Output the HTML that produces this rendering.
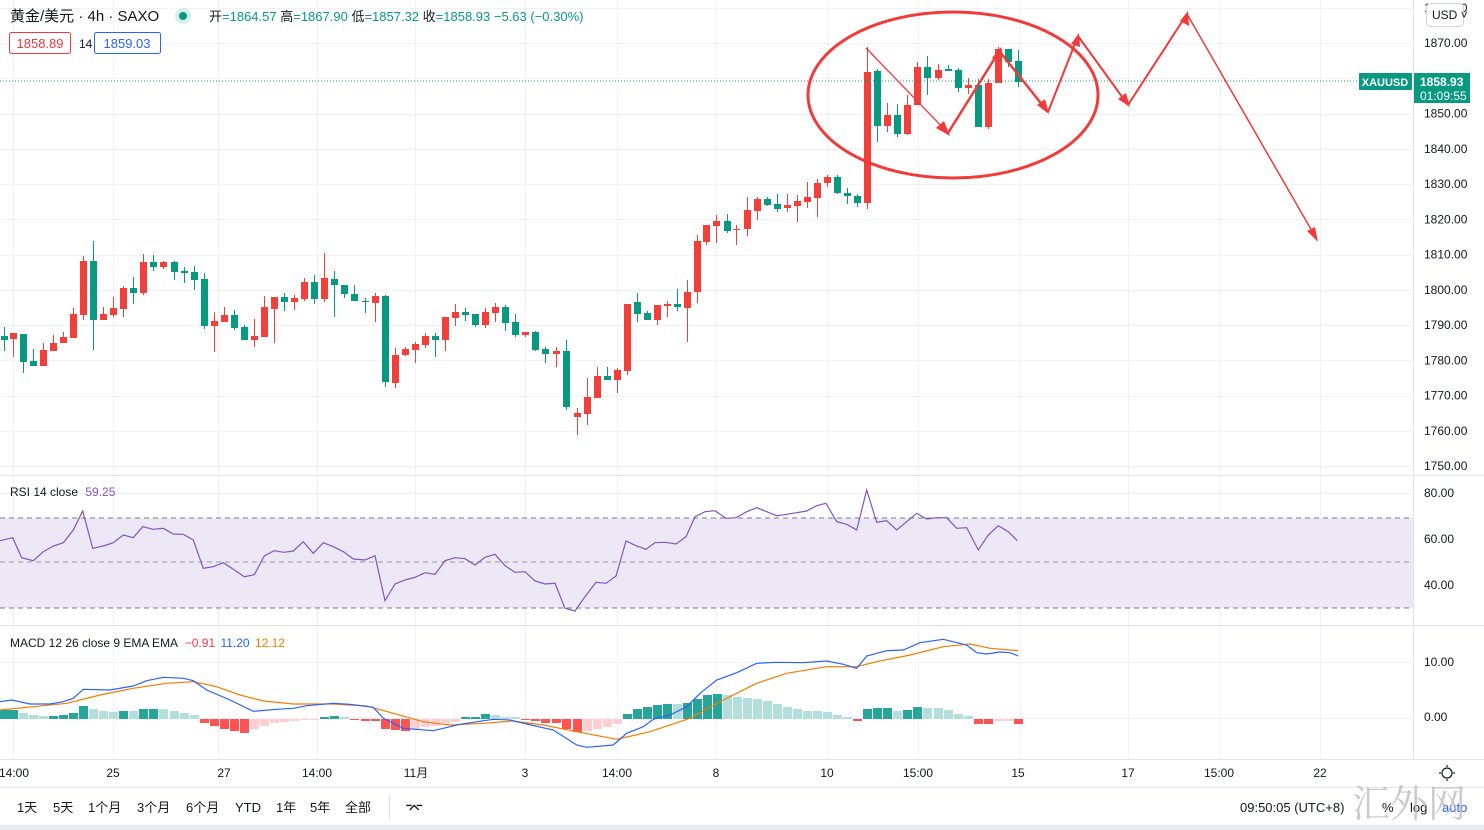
<!DOCTYPE html>
<html><head><meta charset="utf-8">
<style>
html,body{margin:0;padding:0;background:#fff;}
body{width:1484px;height:830px;overflow:hidden;position:relative;font-family:"Liberation Sans","Noto Sans CJK SC",sans-serif;}
svg{position:absolute;left:0;top:0;}
.t{font-family:"Liberation Sans","Noto Sans CJK SC",sans-serif;}
</style></head><body>
<svg id="s" width="1484" height="830" xmlns="http://www.w3.org/2000/svg">
<g id="grid" stroke="#f0f2f5" stroke-width="1"></g>
<rect x="0" y="518" width="1413" height="90" fill="#ede8f6"/>
<line x1="0" y1="518" x2="1413" y2="518" stroke="#787b86" stroke-dasharray="5,4"/>
<line x1="0" y1="562" x2="1413" y2="562" stroke="#9598a1" stroke-dasharray="5,4"/>
<line x1="0" y1="608" x2="1413" y2="608" stroke="#787b86" stroke-dasharray="5,4"/>
<g id="candles"></g>
<line x1="0" y1="81" x2="1413" y2="81" stroke="#089981" stroke-dasharray="1,2"/>
<g id="rsi"></g>
<g id="macd"></g>
<line x1="0" y1="475.5" x2="1484" y2="475.5" stroke="#e0e3eb"/>
<line x1="0" y1="625.5" x2="1484" y2="625.5" stroke="#e0e3eb"/>
<line x1="0" y1="759.5" x2="1484" y2="759.5" stroke="#e0e3eb"/>
<line x1="0" y1="787.5" x2="1484" y2="787.5" stroke="#e0e3eb"/>
<line x1="1413.5" y1="0" x2="1413.5" y2="759" stroke="#e0e3eb"/>
<rect x="0" y="825" width="1484" height="5" fill="#e9ecf2"/>
<g fill="none" stroke="#f23a3a">
<ellipse cx="953" cy="95" rx="145" ry="83" stroke-width="3"/>
<polyline points="866,48 948,133" stroke-width="1.3"/>
<polyline points="948,133 1000,50" stroke-width="2.5"/>
<polyline points="1000,52 1048,112" stroke-width="2.5"/>
<polyline points="1048,112 1078,36" stroke-width="2"/>
<polyline points="1078,36 1128,105" stroke-width="2"/>
<polyline points="1128,105 1187,14" stroke-width="2"/>
<polyline points="1187,14 1316,238" stroke-width="1.5"/>
</g>
<g fill="#f23a3a">
<polygon points="950,136 936,128 944,121"/>
<polygon points="1001,47 1002,63 992,58"/>
<polygon points="1049,114 1037,105 1045,99"/>
<polygon points="1079,33 1080,47 1071,44"/>
<polygon points="1130,107 1118,99 1126,93"/>
<polygon points="1188,11 1189,26 1180,21"/>
<polygon points="1318,242 1307,231 1315,227"/>
</g>
<g id="pax" class="t" font-size="12" fill="#131722"></g>
<g class="t" font-size="12" fill="#131722">
<text x="1424" y="497">80.00</text><text x="1424" y="543">60.00</text><text x="1424" y="589">40.00</text>
<text x="1424" y="666">10.00</text><text x="1424" y="721">0.00</text>
</g>
<rect x="1426.5" y="3.5" width="37" height="23" rx="4" fill="#fff" stroke="#d1d4dc"/>
<text x="1432" y="19" class="t" font-size="12" fill="#131722">USD ˅</text>
<rect x="1359" y="73" width="53" height="17" fill="#089981"/>
<text x="1385" y="86" class="t" font-size="11" font-weight="bold" fill="#fff" text-anchor="middle">XAUUSD</text>
<rect x="1414" y="73" width="56" height="30" fill="#089981"/>
<text x="1420" y="86" class="t" font-size="12" font-weight="bold" fill="#fff">1858.93</text>
<text x="1420" y="100" class="t" font-size="12" fill="#fff">01:09:55</text>
<g class="t" font-size="12" fill="#131722" text-anchor="middle">
<text x="14" y="777">14:00</text><text x="113" y="777">25</text><text x="224" y="777">27</text>
<text x="317" y="777">14:00</text><text x="416" y="777">11月</text><text x="525" y="777">3</text>
<text x="617" y="777">14:00</text><text x="716" y="777">8</text><text x="827" y="777">10</text>
<text x="918" y="777">15:00</text><text x="1018" y="777">15</text><text x="1128" y="777">17</text>
<text x="1219" y="777">15:00</text><text x="1320" y="777">22</text>
</g>
<circle cx="1447" cy="773" r="5" fill="none" stroke="#131722" stroke-width="1.2"/>
<g stroke="#131722" stroke-width="1.2"><line x1="1447" y1="765" x2="1447" y2="767"/><line x1="1447" y1="779" x2="1447" y2="781"/><line x1="1439" y1="773" x2="1441" y2="773"/><line x1="1453" y1="773" x2="1455" y2="773"/></g>
<g class="t" font-size="13" fill="#131722">
<text x="17" y="812">1天</text><text x="53" y="812">5天</text><text x="88" y="812">1个月</text>
<text x="137" y="812">3个月</text><text x="186" y="812">6个月</text><text x="235" y="812">YTD</text>
<text x="276" y="812">1年</text><text x="310" y="812">5年</text><text x="345" y="812">全部</text>
<text x="405" y="814" font-size="16">⌤</text>
<text x="1240" y="812">09:50:05 (UTC+8)</text>
<text x="1382" y="812">%</text><text x="1410" y="812">log</text>
<text x="1442" y="812" fill="#2962ff">auto</text>
</g>
<line x1="389.5" y1="795" x2="389.5" y2="820" stroke="#e0e3eb"/>
<text x="1352" y="817" font-family="'Noto Serif CJK SC',serif" font-size="38" fill="#b5b5b5" opacity="0.7">汇外网</text>
<g class="t" font-size="15" fill="#131722"><text x="10" y="21">黄金/美元 · 4h · SAXO</text></g>
<circle cx="183" cy="16" r="8" fill="#d7efe9"/><circle cx="183" cy="16" r="4" fill="#089981"/>
<g class="t" font-size="13" fill="#089981">
<text x="209" y="21"><tspan fill="#131722">开</tspan>=1864.57 <tspan fill="#131722">高</tspan>=1867.90 <tspan fill="#131722">低</tspan>=1857.32 <tspan fill="#131722">收</tspan>=1858.93 −5.63 (−0.30%)</text>
</g>
<rect x="9.5" y="32.5" width="61" height="21" rx="2" fill="#fff" stroke="#f23645"/>
<text x="40" y="48" class="t" font-size="13" fill="#f23645" text-anchor="middle">1858.89</text>
<text x="79" y="48" class="t" font-size="12" fill="#131722">14</text>
<rect x="94.5" y="32.5" width="66" height="21" rx="2" fill="#fff" stroke="#2962ff"/>
<text x="127" y="48" class="t" font-size="13" fill="#2962ff" text-anchor="middle">1859.03</text>
<g class="t" font-size="12"><text x="10" y="496" fill="#131722">RSI 14 close <tspan fill="#7e57c2" dx="4">59.25</tspan></text>
<text x="10" y="647" fill="#131722">MACD 12 26 close 9 EMA EMA <tspan fill="#f23645" dx="4">−0.91</tspan> <tspan fill="#2962ff" dx="2">11.20</tspan> <tspan fill="#f57c00" dx="2">12.12</tspan></text></g>
</svg>
<script>
var NS="http://www.w3.org/2000/svg";
function el(p,t,a){var e=document.createElementNS(NS,t);for(var k in a)e.setAttribute(k,a[k]);p.appendChild(e);return e;}
var g=document.getElementById('grid');
[13,113,218,317,415,525,617,716,828,918,1020,1128,1220,1320].forEach(function(x){el(g,'line',{x1:x+.5,y1:0,x2:x+.5,y2:759});});
var pax=document.getElementById('pax');
for(var k=-1;k<=12;k++){var y=43+k*35.25;el(g,'line',{x1:0,y1:Math.round(y)+.5,x2:1413,y2:Math.round(y)+.5});
 var t=el(pax,'text',{x:1424,y:y+4});t.textContent=(1870-10*k)+'.00';}
[493,539,585,662,718].forEach(function(y){el(g,'line',{x1:0,y1:y+.5,x2:1413,y2:y+.5});});
var C=[[4,'G',336,340,327,351],[13,'R',333,339,333,357],[23,'G',334,362,334,373],[33,'G',361,366,349,366],[43,'R',350,366,343,366],[53,'R',343,351,335,351],[63,'R',337,343,332,343],[73,'R',314,338,308,338],[83,'R',261,315,256,320],[93,'G',261,320,241,350],[103,'R',314,320,307,320],[113,'R',308,315,297,317],[123,'R',288,309,286,317],[133,'G',288,293,277,304],[143,'R',262,293,254,295],[153,'G',262,267,255,271],[163,'R',262,267,261,269],[174,'G',262,272,261,280],[184,'G',271,273,267,283],[194,'G',272,280,266,290],[204,'G',279,326,273,329],[214,'R',321,326,312,352],[224,'R',315,322,307,322],[234,'G',315,328,310,330],[244,'G',327,340,325,340],[254,'R',336,340,319,347],[264,'R',307,337,296,337],[274,'R',297,309,297,343],[284,'G',297,302,293,311],[294,'R',298,302,295,310],[304,'R',282,299,278,301],[314,'G',282,299,275,304],[324,'R',278,299,253,302],[334,'G',279,285,271,317],[344,'G',285,294,285,298],[354,'G',294,301,285,301],[365,'G',301,302,298,313],[375,'R',296,303,293,322],[385,'G',296,382,295,387],[395,'R',355,383,348,388],
[405,'R',349,355,347,356],[415,'R',344,350,342,363],[425,'R',336,345,333,348],[435,'G',336,340,333,357],[445,'R',317,340,317,351],[455,'R',312,318,304,326],[465,'G',312,315,308,321],[475,'G',314,325,314,327],[485,'R',312,325,308,328],[495,'R',307,313,303,322],[505,'G',307,323,305,331],[515,'G',322,335,314,337],[525,'R',332,335,332,337],[535,'G',332,350,331,351],[545,'G',349,354,347,363],[556,'R',351,354,347,367],[566,'G',351,407,340,410],[577,'R',413,417,408,435],[587,'R',397,414,378,425],[597,'R',376,398,367,398],[607,'G',376,380,367,380],[617,'R',370,380,368,393],[627,'R',304,371,304,375],[637,'G',302,314,293,322],[647,'G',313,320,311,320],[657,'R',305,320,305,325],[667,'R',304,306,301,317],[677,'G',304,307,289,311],[687,'R',292,308,280,342],[697,'R',241,292,235,303],[706,'R',225,242,225,245],[716,'R',221,226,215,243],[727,'G',221,231,214,233],[736,'R',229,230,225,245],[747,'R',210,229,197,236],[757,'R',199,211,197,220],[767,'G',199,205,197,206],[777,'G',204,209,194,212],[787,'R',205,208,194,212],[797,'R',201,206,195,222],[807,'R',197,202,182,208],[817,'R',183,198,179,217],[827,'R',177,183,175,187],[837,'G',177,193,175,194],[847,'G',193,196,188,204],[857,'G',196,203,194,207],[867,'R',72,203,47,209],[877,'G',71,126,69,142],[887,'R',115,126,103,132],[897,'G',115,134,104,137],[907,'R',105,134,95,135],[917,'R',67,105,62,105],[927,'G',67,78,56,95],[938,'R',70,78,64,80],[948,'G',69,71,65,71],[958,'G',70,88,68,92],[968,'R',85,88,78,94],[978,'G',85,127,79,127],[988,'R',83,127,79,129],[998,'R',49,83,47,83],[1008,'G',49,62,49,67],[1018,'G',61,82,50,87]];
var cg=document.getElementById('candles');
C.forEach(function(c){var col=c[1]=='G'?'#089981':'#f23f3a';
 el(cg,'line',{x1:c[0]+.5,y1:c[4],x2:c[0]+.5,y2:c[5],stroke:col,'stroke-width':1});
 el(cg,'rect',{x:c[0]-3,y:c[2],width:7,height:Math.max(1,c[3]-c[2]),fill:col});});
function pts(arr,ox,oy){return arr.map(function(p){return (ox+p[0]/3).toFixed(1)+','+(oy+p[1]/3).toFixed(1);}).join(' ');}
var r1=[[0,182],[38,173],[65,233],[100,242],[130,215],[160,198],[190,188],[220,150],[248,93],[278,205],[310,198],[340,188],[370,165],[400,173],[428,140],[460,148],[490,145],[520,162],[550,163],[580,180],[610,265],[640,260],[670,248],[700,268],[733,290],[763,284],[793,228],[822,212],[852,217],[880,213],[910,185],[940,220],[970,188],[1000,200],[1030,215],[1060,237],[1095,240],[1125,227],[1155,362],[1185,312],[1215,300],[1245,292],[1275,278],[1305,283],[1335,242],[1365,233],[1395,236],[1425,255],[1455,232],[1485,223],[1515,257],[1545,277]];
var r2=[[15,277],[45,275],[75,303],[105,312],[135,310],[165,385],[195,393],[225,350],[258,307],[288,310],[318,288],[348,183],[378,197],[408,208],[435,188],[465,187],[498,192],[528,170],[555,110],[585,95],[615,92],[648,115],[678,113],[710,95],[740,83],[770,95],[800,107],[830,103],[860,98],[890,93],[920,77],[948,70],[980,125],[1010,133],[1040,150],[1070,30],[1100,127],[1130,122],[1160,150],[1190,125],[1220,100],[1250,117],[1280,113],[1310,113],[1340,145],[1370,143],[1405,210],[1435,165],[1465,137],[1495,155],[1522,182]];
var rg=document.getElementById('rsi');
el(rg,'polyline',{points:pts(r1,0,480)+' '+pts(r2,510,480),fill:'none',stroke:'#7e57c2','stroke-width':1.2});
var H=[[4,9,'G'],[13,9,'G'],[23,6,'L'],[33,4,'L'],[43,3,'L'],[53,3,'G'],[63,4,'G'],[73,6,'G'],[83,13,'G'],[93,10,'L'],[103,8,'L'],[113,7,'L'],[123,8,'G'],[133,8,'L'],[143,10,'G'],[153,10,'G'],[163,10,'L'],[174,8,'L'],[184,6,'L'],[194,4,'L'],[204,-4,'R'],[214,-7,'R'],[224,-10,'R'],[234,-12,'R'],[244,-14,'R'],[254,-10,'P'],[264,-7,'P'],[274,-4,'P'],[284,-3,'P'],[294,-2,'P'],[304,-1,'P'],[314,-1,'P'],[324,2,'G'],[334,3,'G'],[344,2,'L'],[354,-1,'R'],[365,-2,'R'],[375,-2,'R'],[385,-10,'R'],[395,-11,'R'],[405,-12,'R'],[415,-10,'P'],[425,-8,'P'],[435,-7,'P'],[445,-4,'P'],[455,-3,'P'],[465,2,'G'],[475,2,'G'],[485,5,'G'],[495,4,'L'],[505,2,'L'],[515,2,'L'],[525,-1,'R'],[535,-2,'R'],[545,-4,'R'],[556,-4,'R'],[566,-10,'R'],[577,-13,'R'],[587,-12,'P'],[597,-10,'P'],[607,-8,'P'],[617,-5,'P'],[627,5,'G'],[637,10,'G'],[647,12,'G'],[657,14,'G'],[667,15,'G'],[677,15,'L'],[687,16,'G'],[697,20,'G'],[707,24,'G'],[717,25,'G'],[727,24,'L'],[737,22,'L'],[747,21,'L'],[757,20,'L'],[767,18,'L'],[777,15,'L'],[787,12,'L'],[797,10,'L'],[807,8,'L'],[817,8,'L'],[827,7,'L'],[837,4,'L'],[847,2,'L'],[857,-2,'R'],[867,10,'G'],[877,11,'G'],[887,11,'G'],[897,8,'L'],[907,9,'G'],[917,12,'G'],[927,11,'L'],[938,11,'L'],[948,9,'L'],[958,5,'L'],[968,3,'L'],[978,-5,'R'],[988,-5,'R'],[998,-2,'P'],[1008,-2,'P'],[1018,-5,'R']];
var mg=document.getElementById('macd');var cols={G:'#26a69a',L:'#b2dfdb',R:'#ff5252',P:'#ffcdd2'};
H.forEach(function(h){var y0=719;el(mg,'rect',{x:h[0]-4,y:h[1]>0?y0-h[1]:y0,width:9,height:Math.abs(h[1]),fill:cols[h[2]]});});
var b1=[[0,215],[35,210],[90,222],[150,222],[190,215],[220,205],[250,178],[330,180],[400,168],[440,152],[490,142],[550,145],[580,152],[620,180],[690,210],[760,244],[830,238],[880,235],[920,227],[1000,220],[1050,223],[1120,232],[1150,265],[1210,295],[1300,302],[1380,283],[1480,268],[1530,270]];
var b2=[[0,270],[50,282],[130,300],[200,345],[230,352],[310,345],[350,310],[400,290],[430,268],[480,255],[530,230],[570,190],[620,150],[680,128],[740,100],[800,97],[880,98],[950,93],[1000,103],[1040,115],[1070,78],[1130,62],[1180,60],[1230,38],[1300,28],[1370,45],[1400,68],[1430,72],[1470,66],[1500,68],[1525,78]];
var o1=[[0,240],[100,230],[200,220],[300,195],[400,175],[500,160],[580,155],[650,170],[720,195],[790,213],[880,222],[1000,222],[1100,228],[1180,250],[1270,275],[1350,285],[1450,280],[1530,274]];
var o2=[[0,272],[100,285],[200,305],[320,328],[420,305],[540,265],[640,210],[740,160],[830,130],[950,110],[1040,110],[1100,95],[1200,75],[1300,50],[1380,42],[1440,55],[1525,62]];
el(mg,'polyline',{points:pts(o1,0,630)+' '+pts(o2,510,630),fill:'none',stroke:'#f57c00','stroke-width':1.2});
el(mg,'polyline',{points:pts(b1,0,630)+' '+pts(b2,510,630),fill:'none',stroke:'#2962ff','stroke-width':1.2});
</script>
</body></html>
